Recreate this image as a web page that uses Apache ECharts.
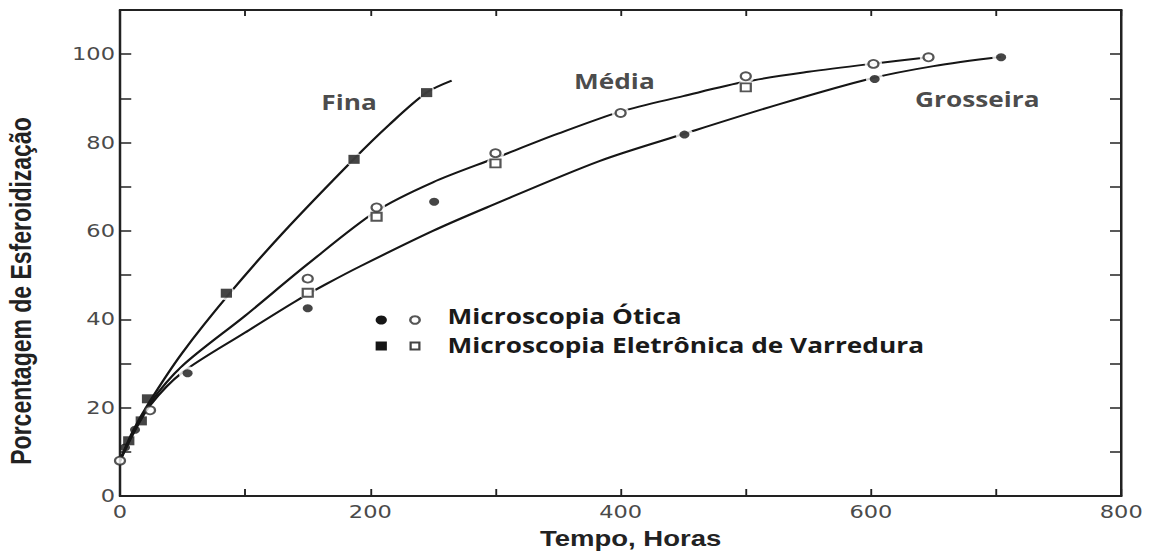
<!DOCTYPE html>
<html>
<head>
<meta charset="utf-8">
<script src="https://cdn.jsdelivr.net/npm/echarts@6/dist/echarts.min.js"></script>
<style>
  html, body { margin: 0; padding: 0; background: #fff; overflow: hidden; }
  /* the plot is laid out on a narrower canvas and widened, so every glyph and marker keeps the wide aspect of the printed figure */
  #chart { width: 928px; height: 556px; transform: scaleX(1.25); transform-origin: 0 0; }
</style>
</head>
<body>
<div id="chart"></div>
<script>
// Spheroidization (%) versus annealing time (h) for fine, medium and coarse pearlite

// fitted curves
const finaCurve = [[0, 8], [10, 14.5], [24, 21.5], [50, 32.5], [88, 46], [130, 59.5], [187, 76.3], [215, 84], [245, 91.3], [265, 94]];
const mediaCurve = [[0, 8], [10, 14], [24, 21], [50, 29.5], [100, 40.8], [150, 52.5], [205, 64.5], [250, 71], [300, 76.5], [350, 82], [400, 87], [450, 90.5], [500, 93.8], [550, 96], [600, 97.8], [646, 99.3]];
const grosseiraCurve = [[0, 8], [10, 13.8], [24, 20.5], [50, 28], [100, 37], [141, 44.2], [165, 48], [192, 52], [250, 60], [293, 65.3], [383, 75.8], [451, 82], [527, 88.7], [600, 94.5], [650, 97.3], [704, 99.4]];

// measured points: optical microscopy (circles) and SEM (squares)
const opticalFilled = [[4, 11], [12, 15], [54, 27.8], [150, 42.5], [251, 66.6], [451, 81.8], [603, 94.4], [704, 99.3]];
const opticalOpen = [[0, 8], [24, 19.4], [150, 49.2], [205, 65.3], [300, 77.6], [400, 86.7], [500, 95], [602, 97.8], [646, 99.3]];
const semFilled = [[7, 12.5], [17, 17], [22, 22], [85, 45.9], [187, 76.2], [245, 91.3]];
const semOpen = [[150, 46], [205, 63.2], [300, 75.3], [500, 92.5]];

const xTickLabels = [0, 200, 400, 600, 800];
const yTickLabels = [0, 20, 40, 60, 80, 100];
const curveNames = ['Fina', 'Média', 'Grosseira'];
const legendNames = ['Microscopia Ótica', 'Microscopia Eletrônica de Varredura'];

const ink = '#161616';
const frame = { show: true, onZero: false, lineStyle: { color: '#222', width: 2 } };
const tickStyle = { color: '#222', width: 1.5 };

function curve(name, data) {
  return {
    name, type: 'line', data, smooth: 0.3, symbol: 'none',
    lineStyle: { color: ink, width: 2 }, z: 2, silent: true
  };
}
function points(data, symbol, size, filled) {
  return {
    type: 'scatter', data, symbol, symbolSize: size, z: 4, silent: true,
    itemStyle: filled ? { color: ink } : { color: '#fff', borderColor: '#2a2a2a', borderWidth: 1.8 }
  };
}

const allPoints = [...opticalFilled, ...opticalOpen, ...semFilled, ...semOpen];

const chart = echarts.init(document.getElementById('chart'), null, { renderer: 'svg' });
chart.setOption({
  animation: false,
  backgroundColor: '#fff',
  grid: { left: 96, right: 31, top: 10, bottom: 60, containLabel: false, outerBoundsMode: 'none' },
  xAxis: [
    {
      type: 'value', min: 0, max: 800, interval: 100, position: 'bottom',
      axisLine: frame,
      axisTick: { inside: true, length: 7, lineStyle: tickStyle },
      axisLabel: {
        formatter: v => xTickLabels.includes(v) ? String(v) : '',
        color: '#4a4a4a', fontFamily: 'DejaVu Sans', fontSize: 18, margin: 7
      },
      splitLine: { show: false },
      name: 'Tempo, Horas', nameLocation: 'middle', nameGap: 31,
      nameTextStyle: { fontFamily: 'Liberation Sans', fontWeight: 'bold', fontSize: 22, color: '#222', padding: [0, 0, 0, 16] }
    },
    {
      type: 'value', min: 0, max: 800, interval: 100, position: 'top',
      axisLine: frame,
      axisTick: { inside: true, length: 6, lineStyle: tickStyle },
      axisLabel: { show: false }, splitLine: { show: false }
    }
  ],
  yAxis: [
    {
      type: 'value', min: 0, max: 110, interval: 10, position: 'left',
      axisLine: frame,
      axisTick: { inside: true, length: 9, lineStyle: tickStyle },
      axisLabel: {
        formatter: v => yTickLabels.includes(v) ? String(v) : '',
        color: '#4a4a4a', fontFamily: 'DejaVu Sans', fontSize: 18, margin: 4
      },
      splitLine: { show: false },
      name: 'Porcentagem de Esferoidização', nameLocation: 'middle', nameGap: 68,
      nameTextStyle: { fontFamily: 'Liberation Sans', fontWeight: 'bold', fontSize: 23, color: '#222', padding: [0, 76, 0, 0] }
    },
    {
      type: 'value', min: 0, max: 110, interval: 10, position: 'right',
      axisLine: frame,
      axisTick: { inside: true, length: 9, lineStyle: tickStyle },
      axisLabel: { show: false }, splitLine: { show: false }
    }
  ],
  series: [
    curve(curveNames[0], finaCurve),
    curve(curveNames[1], mediaCurve),
    curve(curveNames[2], grosseiraCurve),
    // white rings that open small gaps in the curves around the later points
    {
      type: 'scatter', data: allPoints.filter(p => p[0] >= 40), symbol: 'circle', symbolSize: 14,
      itemStyle: { color: '#fff' }, z: 3, silent: true
    },
    points(opticalFilled, 'circle', 8, true),
    points(opticalOpen, 'circle', 8, false),
    points(semFilled, 'rect', 9, true),
    points(semOpen, 'rect', 8, false),
    // curve names
    {
      type: 'scatter', symbolSize: 0, z: 5, silent: true,
      data: [
        { name: curveNames[0], value: [183, 89.2] },
        { name: curveNames[1], value: [395, 93.9] },
        { name: curveNames[2], value: [685, 89.8] }
      ],
      label: {
        show: true, position: 'inside', formatter: '{b}',
        fontFamily: 'Open Sans', fontWeight: 'bold', fontSize: 21, color: '#1a1a1a'
      }
    }
  ],
  graphic: [
    { type: 'circle', shape: { cx: 305, cy: 320, r: 4.5 }, style: { fill: ink }, z: 10 },
    { type: 'circle', shape: { cx: 332, cy: 320, r: 3.8 }, style: { fill: '#fff', stroke: '#555', lineWidth: 2 }, z: 10 },
    { type: 'rect', shape: { x: 300.5, y: 341.5, width: 9, height: 9 }, style: { fill: ink }, z: 10 },
    { type: 'rect', shape: { x: 328.5, y: 342.5, width: 7, height: 7 }, style: { fill: '#fff', stroke: '#444', lineWidth: 1.8 }, z: 10 },
    {
      type: 'text', x: 358, y: 316.5, z: 10,
      style: { text: legendNames[0], fontFamily: 'Open Sans', fontWeight: 'bold', fontSize: 21, lineHeight: 22, fill: '#1a1a1a', verticalAlign: 'middle' }
    },
    {
      type: 'text', x: 358, y: 345.5, z: 10,
      style: { text: legendNames[1], fontFamily: 'Open Sans', fontWeight: 'bold', fontSize: 21, lineHeight: 22, fill: '#1a1a1a', verticalAlign: 'middle' }
    }
  ]
});
</script>
</body>
</html>
